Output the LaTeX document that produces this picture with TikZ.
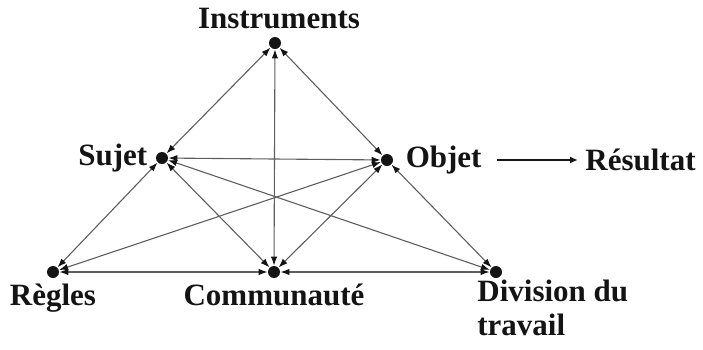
\documentclass[tikz,border=0pt]{standalone}
\usepackage{fontspec}
\setmainfont{Liberation Serif}
\usepackage{tikz}
\usetikzlibrary{arrows.meta,positioning}
\definecolor{actink}{HTML}{141414}
\definecolor{actgray}{HTML}{5E5E5E}

\begin{document}
\begin{tikzpicture}[x=0.5pt,y=-0.5pt,
    pole/.style={circle,fill=actink,inner sep=0pt,minimum size=6pt},
    lab/.style={font=\fontsize{15.5}{16}\selectfont\bfseries,text=actink,inner sep=0pt},
    link/.style={actgray,line width=0.55pt,
      {Latex[length=4.5pt,width=3.2pt,color=actink]}-{Latex[length=4.5pt,width=3.2pt,color=actink]}}]
  \useasboundingbox (0,0) rectangle (703,349);
  % the six poles
  \node[pole] (instr) at (275,43) {};
  \node[pole] (sujet) at (162,158) {};
  \node[pole] (objet) at (387,160) {};
  \node[pole] (regles) at (53,272) {};
  \node[pole] (commu) at (274,272) {};
  \node[pole] (divis) at (496,272) {};
  % labels
  \node[lab] (instrlab) at (279,19) {Instruments};
  \node[lab,left=4pt of sujet] (sujetlab) {Sujet};
  \node[lab,right=6pt of objet] (objetlab) {Objet};
  \node[lab,anchor=west] (resultlab) at (585,160) {Résultat};
  \node[lab,below=2.5pt of regles] (regleslab) {Règles};
  \node[lab,below=2.5pt of commu] (commulab) {Communauté};
  \node[lab,anchor=north west,align=left] (divislab) at (477,280) {Division du\\[1pt]travail};
  % links
  \foreach \a/\b in {instr/sujet,instr/objet,instr/commu,sujet/objet,
      sujet/regles,sujet/commu,sujet/divis,objet/regles,objet/commu,
      objet/divis,regles/commu,commu/divis}
    \draw[link] (\a) -- (\b);
  \draw[actink,line width=0.9pt,-{Latex[length=4pt,width=3.5pt]}]
    ([xshift=7.5pt]objetlab.east) -- ([xshift=-3.5pt]resultlab.west);
\end{tikzpicture}
\end{document}
